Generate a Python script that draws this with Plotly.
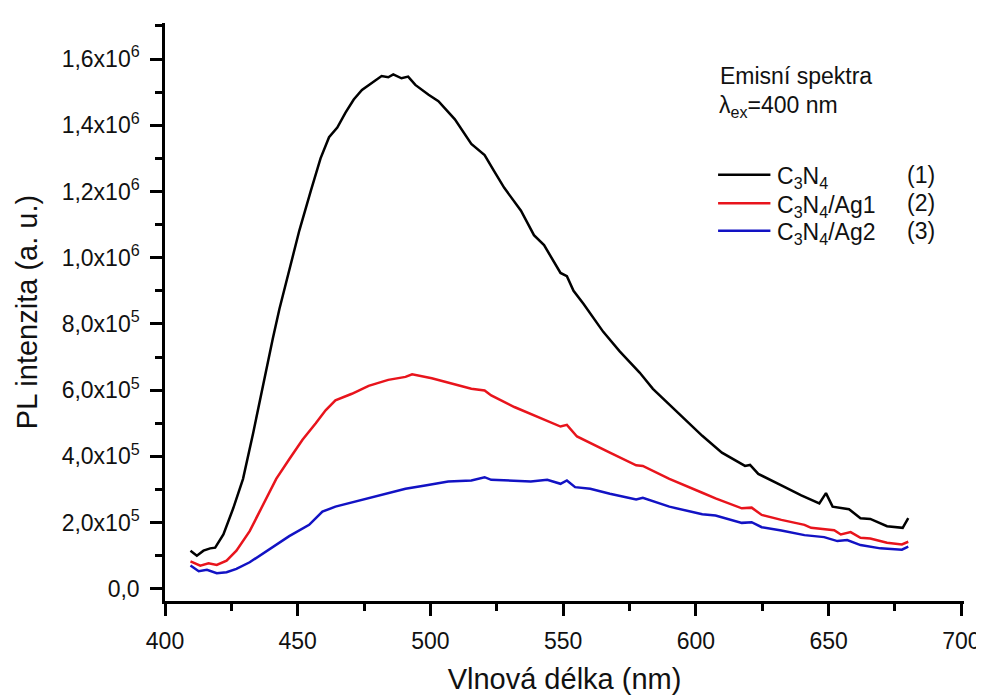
import plotly.graph_objects as go

# ---- data ----
wl_1 = [409.6, 412.0, 414.5, 417.0, 418.9, 422.0, 425.7, 429.4, 433.2, 436.9, 440.6, 443.1,
        446.8, 450.6, 454.9, 458.6, 461.8, 464.9, 468.0, 471.1, 474.2, 477.9, 481.6, 484.1,
        486.0, 489.1, 491.6, 494.3, 499.3, 503.0, 509.2, 515.4, 520.4, 524.1, 527.8, 534.1,
        539.0, 542.8, 549.0, 551.4, 553.9, 557.7, 560.2, 565.1, 571.3, 578.8, 583.8, 592.4,
        602.4, 609.8, 618.5, 620.4, 623.5, 632.2, 639.7, 646.5, 649.0, 651.5, 657.7, 662.0,
        665.7, 672.0, 677.9, 680.0]
pl_1 = [1.15e5, 1.00e5, 1.15e5, 1.22e5, 1.24e5, 1.64e5, 2.43e5, 3.32e5, 4.70e5, 6.18e5, 7.55e5, 8.45e5,
        9.64e5, 1.082e6, 1.201e6, 1.300e6, 1.364e6, 1.393e6, 1.438e6, 1.478e6, 1.507e6, 1.529e6, 1.549e6, 1.545e6,
        1.554e6, 1.542e6, 1.547e6, 1.522e6, 1.492e6, 1.473e6, 1.418e6, 1.344e6, 1.310e6, 1.260e6, 1.211e6, 1.142e6,
        1.068e6, 1.038e6, 9.54e5, 9.44e5, 9.00e5, 8.60e5, 8.31e5, 7.76e5, 7.17e5, 6.53e5, 6.04e5, 5.39e5,
        4.62e5, 4.11e5, 3.71e5, 3.74e5, 3.47e5, 3.12e5, 2.82e5, 2.58e5, 2.89e5, 2.48e5, 2.40e5, 2.13e5,
        2.11e5, 1.89e5, 1.84e5, 2.13e5]

wl_2 = [409.6, 413.3, 416.4, 419.5, 423.2, 426.9, 431.9, 436.9, 441.9, 446.8, 451.8, 456.8,
        460.5, 464.2, 470.4, 476.7, 484.1, 490.6, 493.1, 500.5, 509.2, 515.4, 520.4, 522.9,
        531.6, 540.3, 549.0, 551.4, 555.2, 567.6, 577.5, 580.0, 590.0, 602.4, 607.4, 617.3,
        621.0, 624.8, 632.2, 640.9, 643.4, 652.1, 654.6, 658.3, 662.0, 665.7, 672.0, 677.6, 680.0]
pl_2 = [8.3e4, 7.0e4, 7.7e4, 7.2e4, 8.5e4, 1.15e5, 1.74e5, 2.53e5, 3.32e5, 3.91e5, 4.50e5, 5.00e5,
        5.39e5, 5.69e5, 5.89e5, 6.13e5, 6.31e5, 6.40e5, 6.48e5, 6.36e5, 6.18e5, 6.04e5, 5.99e5, 5.84e5,
        5.49e5, 5.19e5, 4.90e5, 4.95e5, 4.60e5, 4.11e5, 3.73e5, 3.71e5, 3.32e5, 2.90e5, 2.73e5, 2.43e5,
        2.45e5, 2.23e5, 2.08e5, 1.93e5, 1.84e5, 1.77e5, 1.64e5, 1.71e5, 1.54e5, 1.52e5, 1.39e5, 1.34e5, 1.42e5]

wl_3 = [409.6, 412.7, 415.8, 419.5, 423.2, 426.9, 431.9, 439.4, 446.8, 454.3, 459.3, 464.2,
        471.7, 479.1, 486.6, 490.6, 498.0, 506.7, 515.4, 520.4, 522.9, 531.6, 537.8, 544.0,
        549.0, 551.4, 554.5, 560.2, 567.6, 577.5, 580.0, 590.0, 602.4, 607.4, 617.3, 621.0,
        624.8, 632.2, 640.9, 648.3, 653.3, 657.0, 662.0, 669.5, 677.6, 680.0]
pl_3 = [7.0e4, 5.3e4, 5.7e4, 4.7e4, 5.0e4, 6.0e4, 8.0e4, 1.19e5, 1.59e5, 1.93e5, 2.33e5, 2.48e5,
        2.63e5, 2.78e5, 2.92e5, 3.02e5, 3.12e5, 3.24e5, 3.27e5, 3.37e5, 3.29e5, 3.27e5, 3.24e5, 3.29e5,
        3.17e5, 3.27e5, 3.07e5, 3.02e5, 2.87e5, 2.70e5, 2.75e5, 2.48e5, 2.25e5, 2.21e5, 1.99e5, 2.01e5,
        1.86e5, 1.76e5, 1.62e5, 1.56e5, 1.44e5, 1.47e5, 1.32e5, 1.22e5, 1.18e5, 1.27e5]

series_names = ["C<sub>3</sub>N<sub>4</sub>", "C<sub>3</sub>N<sub>4</sub>/Ag1", "C<sub>3</sub>N<sub>4</sub>/Ag2"]
series_ids = ["(1)", "(2)", "(3)"]
series_colors = ["#000000", "#e8141c", "#1212c4"]

x_tick_vals = [400, 450, 500, 550, 600, 650, 700]
y_tick_vals = [0, 2e5, 4e5, 6e5, 8e5, 1.0e6, 1.2e6, 1.4e6, 1.6e6]
y_tick_text = ["0,0", "2,0x10<sup>5</sup>", "4,0x10<sup>5</sup>", "6,0x10<sup>5</sup>",
               "8,0x10<sup>5</sup>", "1,0x10<sup>6</sup>", "1,2x10<sup>6</sup>",
               "1,4x10<sup>6</sup>", "1,6x10<sup>6</sup>"]

FONT = "Liberation Sans, Arial, sans-serif"
TXT = "#111111"

fig = go.Figure()
for wl, pl, name, col in zip([wl_1, wl_2, wl_3], [pl_1, pl_2, pl_3], series_names, series_colors):
    fig.add_trace(go.Scatter(x=wl, y=pl, mode="lines", name=name,
                             line=dict(color=col, width=2.5), showlegend=False))

axis_common = dict(
    showline=True, linecolor="black", linewidth=2.5,
    ticks="outside", ticklen=12, tickwidth=2.5, tickcolor="black",
    showgrid=False, zeroline=False, mirror=False,
    tickfont=dict(family=FONT, size=23, color=TXT),
    ticklabelstandoff=6,
)

fig.update_xaxes(
    range=[400, 701], tickvals=x_tick_vals,
    minor=dict(ticks="outside", ticklen=7, tickwidth=2.5, tickcolor="black", dtick=25, tick0=400),
    title=dict(text="Vlnová délka (nm)", font=dict(family=FONT, size=29, color=TXT), standoff=16),
    **axis_common,
)
fig.update_yaxes(
    range=[-0.037e6, 1.709e6], tickvals=y_tick_vals, ticktext=y_tick_text,
    minor=dict(ticks="outside", ticklen=7, tickwidth=2.5, tickcolor="black", dtick=1e5, tick0=0),
    title=dict(text="PL intenzita (a. u.)", font=dict(family=FONT, size=29, color=TXT), standoff=16),
    **axis_common,
)

# legend block drawn as in the reference (sample lines + labels)
W, H = 984, 695
L, R, T, B = 157, 18, 15, 90
def px(xp):
    return (xp - L) / (W - L - R)
def py(yp):
    return 1 - (yp - T) / (H - T - B)

ann = [
    dict(text="Emisní spektra", x=717, y=69),
    dict(text="λ<sub>ex</sub>=400 nm", x=716, y=100),
]
line_y = [170, 199, 227]
shapes = []
for yy, name, sid, col in zip(line_y, series_names, series_ids, series_colors):
    shapes.append(dict(type="line", xref="paper", yref="paper", x0=px(717), x1=px(770),
                       y0=py(yy), y1=py(yy), line=dict(color=col, width=2.5)))
    ann.append(dict(text=name, x=775, y=yy + 3))
    ann.append(dict(text=sid, x=906, y=yy))

annotations = []
for a in ann:
    annotations.append(dict(text=a["text"], xref="paper", yref="paper", x=px(a["x"]), y=py(a["y"]),
                            xanchor="left", yanchor="middle", showarrow=False,
                            font=dict(family=FONT, size=23, color=TXT)))

fig.update_layout(
    width=W, height=H,
    margin=dict(l=L, r=R, t=T, b=B),
    plot_bgcolor="white", paper_bgcolor="white",
    shapes=shapes, annotations=annotations,
    showlegend=False,
)

fig.write_html("out.html")
